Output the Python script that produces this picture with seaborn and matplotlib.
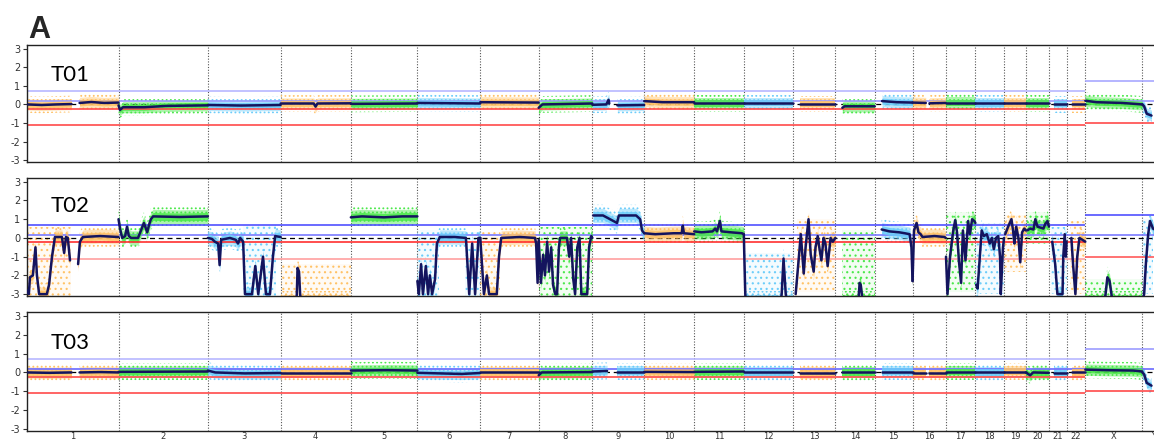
import numpy as np
import pandas as pd
import seaborn as sns
import matplotlib.pyplot as plt

NA = np.nan

# chromosomes and their lengths (Mb)
chroms = ['1', '2', '3', '4', '5', '6', '7', '8', '9', '10', '11', '12',
          '13', '14', '15', '16', '17', '18', '19', '20', '21', '22', 'X', 'Y']
chrom_mb = [249, 243, 198, 191, 181, 171, 159, 146, 141, 136, 135, 134,
            115, 107, 103, 90, 81, 78, 59, 63, 48, 51, 155, 59]
chrom_colors = ['#ffc266', '#4ae84a', '#6ccdfa'] * 8

samples = ['T01', 'T02', 'T03']

# segmented log2 ratio: (chromosome, position in Mb, value); NA breaks the line
t01_profile = [
    ('1', 0, 0.0), ('1', 40, -0.03), ('1', 80, 0.0), ('1', 121, 0.02), ('1', 121, NA),
    ('1', 143, 0.08), ('1', 175, 0.13), ('1', 210, 0.08), ('1', 249, 0.1),
    ('2', 0, -0.05), ('2', 4, -0.3), ('2', 12, -0.15), ('2', 70, -0.15), ('2', 130, -0.08), ('2', 243, -0.05),
    ('3', 0, -0.03), ('3', 90, -0.06), ('3', 198, -0.03),
    ('4', 0, 0.05), ('4', 90, 0.05), ('4', 95, -0.12), ('4', 100, 0.05), ('4', 191, 0.06),
    ('5', 0, 0.03), ('5', 181, 0.05),
    ('6', 0, 0.08), ('6', 171, 0.05),
    ('7', 0, 0.12), ('7', 159, 0.1),
    ('8', 0, -0.18), ('8', 10, 0.0), ('8', 146, 0.05),
    ('9', 0, -0.02), ('9', 38, 0.0), ('9', 44, 0.25), ('9', 46, 0.05), ('9', 46, NA),
    ('9', 68, -0.05), ('9', 141, -0.03),
    ('10', 0, 0.18), ('10', 50, 0.12), ('10', 136, 0.12),
    ('11', 0, 0.05), ('11', 135, 0.05),
    ('12', 0, 0.07), ('12', 134, 0.07),
    ('13', 18, 0.03), ('13', 115, 0.03),
    ('14', 19, -0.18), ('14', 25, -0.1), ('14', 107, -0.1),
    ('15', 20, 0.18), ('15', 60, 0.12), ('15', 103, 0.1),
    ('16', 0, 0.1), ('16', 36, 0.08), ('16', 36, NA), ('16', 46, 0.06), ('16', 90, 0.08),
    ('17', 0, 0.1), ('17', 81, 0.1),
    ('18', 0, 0.05), ('18', 78, 0.05),
    ('19', 0, 0.05), ('19', 59, 0.05),
    ('20', 0, 0.05), ('20', 63, 0.05),
    ('21', 14, 0.0), ('21', 48, 0.0),
    ('22', 16, 0.0), ('22', 51, 0.0),
    ('X', 0, 0.2), ('X', 30, 0.12), ('X', 100, 0.08), ('X', 155, 0.0),
    ('Y', 0, 0.0), ('Y', 5, -0.1), ('Y', 12, -0.5), ('Y', 25, -0.6),
]

t02_profile = [
    ('1', 0, -2.8), ('1', 5, -3.0), ('1', 8, -2.1), ('1', 16, -2.0), ('1', 23, -0.5), ('1', 27, -2.0),
    ('1', 33, -3.0), ('1', 54, -3.0), ('1', 60, -2.5), ('1', 68, -1.0), ('1', 76, 0.05), ('1', 95, 0.05),
    ('1', 101, -0.8), ('1', 106, 0.05), ('1', 111, 0.0), ('1', 117, -1.2), ('1', 117, NA),
    ('1', 139, -1.4), ('1', 144, -0.2), ('1', 152, 0.05), ('1', 199, 0.1), ('1', 249, 0.05),
    ('2', 0, 1.0), ('2', 4, 0.5), ('2', 10, 0.0), ('2', 18, 0.1), ('2', 23, 0.6), ('2', 28, 0.1),
    ('2', 34, 0.0), ('2', 53, 0.0), ('2', 61, 0.4), ('2', 69, 0.8), ('2', 78, 0.3), ('2', 83, 0.7),
    ('2', 88, 1.0), ('2', 94, 1.15), ('2', 167, 1.12), ('2', 243, 1.15),
    ('3', 0, 0.0), ('3', 11, -0.05), ('3', 19, -0.2), ('3', 28, -0.3), ('3', 32, -1.45), ('3', 36, -0.1),
    ('3', 60, 0.0), ('3', 76, -0.1), ('3', 82, -0.3), ('3', 88, 0.0), ('3', 96, -0.2), ('3', 101, -3.0),
    ('3', 120, -3.0), ('3', 129, -1.5), ('3', 137, -3.0), ('3', 150, -1.0), ('3', 158, -3.0),
    ('3', 169, -3.0), ('3', 177, -1.0), ('3', 183, 0.1), ('3', 198, 0.05),
    ('4', 0, -3.4), ('4', 42, -3.4), ('4', 44, -3.0), ('4', 46, -1.6), ('4', 50, -1.8), ('4', 53, -3.0),
    ('4', 55, -3.4), ('4', 191, -3.4),
    ('5', 0, 1.1), ('5', 30, 1.15), ('5', 90, 1.1), ('5', 140, 1.15), ('5', 181, 1.15),
    ('6', 0, -2.3), ('6', 4, -3.0), ('6', 10, -1.4), ('6', 15, -3.0), ('6', 23, -1.5), ('6', 29, -3.0),
    ('6', 34, -2.0), ('6', 40, -3.0), ('6', 48, -2.2), ('6', 53, -0.3), ('6', 61, 0.05), ('6', 102, 0.05),
    ('6', 132, 0.0), ('6', 141, -3.0), ('6', 149, -0.3), ('6', 157, -3.0), ('6', 166, 0.0), ('6', 171, 0.0),
    ('7', 0, 0.0), ('7', 5, -1.5), ('7', 10, -3.0), ('7', 18, -2.0), ('7', 24, -3.0), ('7', 45, -3.0),
    ('7', 51, -1.0), ('7', 57, 0.0), ('7', 108, 0.05), ('7', 149, 0.0), ('7', 152, -0.3), ('7', 156, -2.4),
    ('7', 159, -0.2),
    ('8', 0, -0.1), ('8', 6, -2.4), ('8', 12, -0.9), ('8', 17, -2.0), ('8', 23, -0.2), ('8', 28, -1.8),
    ('8', 34, -0.5), ('8', 39, -2.5), ('8', 45, -3.0), ('8', 50, -3.0), ('8', 55, -0.5), ('8', 58, 0.0),
    ('8', 77, 0.0), ('8', 83, -1.0), ('8', 88, 0.0), ('8', 94, -2.2), ('8', 99, -3.0), ('8', 105, -0.5),
    ('8', 111, 0.0), ('8', 116, -3.0), ('8', 132, -3.0), ('8', 137, -0.5), ('8', 143, 0.1), ('8', 146, 0.0),
    ('9', 2, 1.2), ('9', 29, 1.2), ('9', 67, 0.8), ('9', 72, 1.2), ('9', 119, 1.2), ('9', 130, 1.0),
    ('9', 135, 0.4), ('9', 141, 0.25),
    ('10', 0, 0.25), ('10', 30, 0.2), ('10', 80, 0.25), ('10', 102, 0.25), ('10', 105, 0.65),
    ('10', 108, 0.25), ('10', 136, 0.2),
    ('11', 0, 0.35), ('11', 20, 0.3), ('11', 50, 0.35), ('11', 57, 0.5), ('11', 62, 0.35), ('11', 70, 0.9),
    ('11', 74, 0.35), ('11', 100, 0.3), ('11', 130, 0.25), ('11', 135, 0.2),
    ('12', 0, 0.2), ('12', 2, -1.5), ('12', 4, -3.0), ('12', 6, -3.4), ('12', 100, -3.4), ('12', 103, -3.0),
    ('12', 108, -1.1), ('12', 114, -3.0), ('12', 118, -3.4), ('12', 134, -3.4),
    ('13', 7, -3.0), ('13', 15, -1.2), ('13', 21, 0.2), ('13', 29, -1.9), ('13', 34, -0.5), ('13', 42, 1.0),
    ('13', 48, -0.9), ('13', 56, -1.8), ('13', 61, -0.5), ('13', 67, 0.1), ('13', 72, -0.6), ('13', 77, -1.2),
    ('13', 83, 0.0), ('13', 88, -0.3), ('13', 94, -1.5), ('13', 102, 0.0), ('13', 108, -0.2), ('13', 115, 0.0),
    ('14', 19, -3.4), ('14', 62, -3.4), ('14', 64, -3.0), ('14', 66, -2.4), ('14', 69, -2.5), ('14', 72, -3.0),
    ('14', 74, -3.4), ('14', 107, -3.4),
    ('15', 19, 0.45), ('15', 40, 0.35), ('15', 67, 0.3), ('15', 82, 0.25), ('15', 95, 0.2), ('15', 100, -0.5),
    ('15', 103, -2.3),
    ('16', 0, -2.3), ('16', 4, 0.4), ('16', 11, 0.8), ('16', 16, 0.3), ('16', 22, 0.2), ('16', 27, 0.05),
    ('16', 60, 0.1), ('16', 87, 0.05), ('16', 90, 0.0),
    ('17', 1, -1.0), ('17', 5, -3.0), ('17', 12, -1.0), ('17', 20, 0.3), ('17', 26, 0.95), ('17', 31, 0.3),
    ('17', 36, -1.2), ('17', 42, -2.4), ('17', 47, 0.4), ('17', 54, -1.2), ('17', 61, 0.9), ('17', 66, 0.2),
    ('17', 72, 1.0), ('17', 78, 0.9), ('17', 81, 0.8),
    ('18', 2, -2.5), ('18', 6, -2.7), ('18', 12, -1.0), ('18', 17, 0.4), ('18', 23, 0.1), ('18', 31, 0.2),
    ('18', 39, -0.3), ('18', 45, 0.0), ('18', 50, -0.6), ('18', 56, 0.0), ('18', 62, 0.1), ('18', 67, -1.0),
    ('18', 69, -3.0), ('18', 75, -0.5), ('18', 78, 0.0),
    ('19', 3, 0.2), ('19', 11, 0.6), ('19', 20, 1.0), ('19', 25, 0.3), ('19', 28, -0.3), ('19', 33, 0.6),
    ('19', 39, 0.0), ('19', 44, -1.3), ('19', 49, 0.3), ('19', 55, 0.5), ('19', 59, 0.4),
    ('20', 4, 0.4), ('20', 12, 0.5), ('20', 21, 0.45), ('20', 26, 1.0), ('20', 32, 0.6), ('20', 40, 0.55),
    ('20', 48, 0.5), ('20', 53, 0.75), ('20', 59, 0.9), ('20', 63, 0.6),
    ('21', 9, -0.2), ('21', 17, -1.4), ('21', 23, -3.0), ('21', 37, -3.0), ('21', 39, -1.0), ('21', 43, 0.2),
    ('21', 46, -1.0), ('21', 48, -0.2),
    ('22', 13, 0.0), ('22', 18, -1.5), ('22', 24, -3.0), ('22', 29, -1.0), ('22', 35, 0.0), ('22', 43, -0.1),
    ('22', 51, -0.2),
    ('X', 0, -3.4), ('X', 52, -3.4), ('X', 55, -3.0), ('X', 60, -2.1), ('X', 66, -2.3), ('X', 71, -3.0),
    ('X', 74, -3.4), ('X', 155, -3.4),
    ('Y', 0, -3.4), ('Y', 5, -3.0), ('Y', 10, -1.3), ('Y', 16, 0.2), ('Y', 21, 0.9), ('Y', 29, 0.5),
    ('Y', 48, 0.3),
]

t03_profile = [
    ('1', 0, 0.0), ('1', 60, -0.02), ('1', 121, 0.0), ('1', 121, NA),
    ('1', 143, 0.0), ('1', 200, 0.02), ('1', 249, 0.0),
    ('2', 0, 0.03), ('2', 243, 0.05),
    ('3', 0, 0.1), ('3', 20, 0.0), ('3', 100, -0.05), ('3', 198, -0.03),
    ('4', 0, -0.02), ('4', 191, -0.02),
    ('5', 0, 0.1), ('5', 100, 0.12), ('5', 181, 0.1),
    ('6', 0, -0.02), ('6', 120, -0.08), ('6', 171, -0.03),
    ('7', 0, 0.0), ('7', 159, 0.0),
    ('8', 0, -0.15), ('8', 8, 0.0), ('8', 146, 0.02),
    ('9', 0, 0.05), ('9', 40, 0.08), ('9', 40, NA), ('9', 68, 0.05), ('9', 141, 0.05),
    ('10', 0, 0.03), ('10', 136, 0.02),
    ('11', 0, 0.03), ('11', 135, 0.05),
    ('12', 0, 0.0), ('12', 134, 0.0),
    ('13', 18, -0.03), ('13', 115, -0.03),
    ('14', 19, 0.0), ('14', 107, 0.0),
    ('15', 20, 0.05), ('15', 103, 0.05),
    ('16', 0, -0.02), ('16', 36, -0.02), ('16', 36, NA), ('16', 46, -0.02), ('16', 90, -0.02),
    ('17', 0, 0.03), ('17', 81, 0.03),
    ('18', 0, 0.0), ('18', 78, 0.0),
    ('19', 0, 0.05), ('19', 59, 0.05),
    ('20', 0, 0.0), ('20', 12, -0.15), ('20', 20, 0.0), ('20', 63, -0.02),
    ('21', 14, -0.02), ('21', 48, -0.02),
    ('22', 16, 0.0), ('22', 51, 0.0),
    ('X', 0, 0.15), ('X', 60, 0.12), ('X', 130, 0.1), ('X', 155, 0.05),
    ('Y', 0, 0.0), ('Y', 5, -0.1), ('Y', 12, -0.55), ('Y', 25, -0.7),
]

# sparse probe clouds for T02: (chromosome, start Mb, end Mb, low, high)
t02_clouds = [
    ('1', 0, 120, -3.1, 0.6), ('3', 95, 185, -3.1, 0.7), ('4', 0, 191, -3.1, -1.4),
    ('6', 0, 60, -3.1, 0.4), ('6', 130, 171, -3.1, 0.3), ('7', 0, 55, -3.1, 0.3),
    ('8', 0, 146, -3.1, 0.6), ('12', 0, 134, -3.1, -0.8), ('13', 10, 115, -2.9, 1.0),
    ('14', 19, 107, -3.1, 0.4), ('17', 0, 81, -2.9, 1.4), ('18', 0, 78, -3.0, 0.8),
    ('19', 0, 59, -1.8, 1.2), ('20', 0, 63, -0.3, 1.4), ('21', 5, 48, -3.0, 0.6),
    ('22', 10, 51, -3.0, 0.9), ('X', 0, 155, -3.1, -2.2), ('Y', 0, 30, -3.0, 1.0),
]

profiles = [t01_profile, t02_profile, t03_profile]
clouds = [[], t02_clouds, []]
noise = [0.3, 0.38, 0.3]

# thresholds: autosome gain/loss, X gain/loss
gain_levels = [0.7, 0.18]
loss_levels = [-0.22, -1.1]
x_gain = 1.25
x_loss = -1.0

line_colors = [
    ['#b8b8ff', '#9a9aff', '#ff4a4a', '#ff4a4a', '#a8a8ff', '#ff4a4a'],
    ['#5050ff', '#7a7aff', '#ff3030', '#ffa0a0', '#5050ff', '#ff5a5a'],
    ['#b8b8ff', '#6868ff', '#ff4a4a', '#ff4a4a', '#9c9cff', '#ff4a4a'],
]

offsets = np.concatenate([[0], np.cumsum(chrom_mb)[:-1]])
genome_end = int(np.sum(chrom_mb))
x_start = offsets[chroms.index('X')]


def to_frame(profile):
    rows = []
    seg = 0
    prev = None
    for c, pos, val in profile:
        if c != prev or np.isnan(val):
            seg += 1
        prev = c
        if np.isnan(val):
            continue
        i = chroms.index(c)
        rows.append((seg, c, offsets[i] + pos, val, chrom_colors[i]))
    return pd.DataFrame(rows, columns=['seg', 'chrom', 'gpos', 'lr', 'color'])


sns.set_theme(style='white')
plt.rcParams['font.family'] = ['DejaVu Sans']
plt.rcParams['hatch.linewidth'] = 0.8

fig = plt.figure(figsize=(11.54, 4.41), dpi=100)
px_per_mb = 0.3676
ax_left = 27 / 1154
ax_width = genome_end * px_per_mb / 1154
panel_box = [(45, 162), (178, 296), (312, 431)]

for k, name in enumerate(samples):
    top, bot = panel_box[k]
    ax = fig.add_axes([ax_left, 1 - bot / 441, ax_width, (bot - top) / 441])
    df = to_frame(profiles[k])
    s = noise[k]

    # sparse probe clouds (fine stipple for scattered probes)
    for c, a, b, lo, hi in clouds[k]:
        i = chroms.index(c)
        ax.fill_between([offsets[i] + a, offsets[i] + b], lo, hi, color=chrom_colors[i],
                        alpha=0.07, lw=0, zorder=1)
        ax.fill_between([offsets[i] + a, offsets[i] + b], lo, hi, facecolor='none',
                        edgecolor=chrom_colors[i], hatch='...', lw=0, zorder=1)

    # probe bands around the segments
    for seg, g in df.groupby('seg'):
        col = g['color'].iloc[0]
        ax.fill_between(g['gpos'], g['lr'] - s * 1.5, g['lr'] + s * 1.5, facecolor='none',
                        edgecolor=col, hatch='....', lw=0, zorder=2)
        ax.fill_between(g['gpos'], g['lr'] - s, g['lr'] + s, color=col, alpha=0.45, lw=0, zorder=2)
        ax.fill_between(g['gpos'], g['lr'] - s * 0.55, g['lr'] + s * 0.55, color=col, alpha=0.85,
                        lw=0, zorder=2.2)

    # thresholds
    lc = line_colors[k]
    ax.axhline(0, color='black', ls=(0, (4, 3)), lw=0.9, zorder=1.5)
    ax.hlines(gain_levels[0], 0, x_start, color=lc[0], lw=1.2, zorder=2.5)
    ax.hlines(gain_levels[1], 0, genome_end, color=lc[1], lw=1.2, zorder=2.1)
    ax.hlines(loss_levels[0], 0, x_start, color=lc[2], lw=1.2, zorder=2.5)
    ax.hlines(loss_levels[1], 0, x_start, color=lc[3], lw=1.2, zorder=2.5)
    ax.hlines(x_gain, x_start, genome_end, color=lc[4], lw=1.2, zorder=2.5)
    ax.hlines(x_loss, x_start, genome_end, color=lc[5], lw=1.2, zorder=2.5)

    # chromosome boundaries
    for b in offsets[1:]:
        ax.axvline(b, color='#555555', ls=(0, (1, 1.5)), lw=0.8, zorder=1)

    sns.lineplot(data=df, x='gpos', y='lr', units='seg', estimator=None, sort=False,
                 color='#14145e', lw=1.8, ax=ax, legend=False, zorder=4)

    ax.set_xlim(0, genome_end)
    ax.set_ylim(-3.1, 3.2)
    ax.set_yticks(range(-3, 4))
    ax.set_yticklabels([str(v) for v in range(-3, 4)], fontsize=7, color='#333333')
    ax.set_xticks(list(offsets[1:]))
    ax.set_xticklabels([])
    ax.set_xticks(offsets + np.array(chrom_mb) / 2, minor=True)
    if k == 2:
        ax.set_xticklabels(chroms, minor=True, fontsize=6, color='#333333')
    else:
        ax.set_xticklabels([], minor=True)
    ax.tick_params(axis='x', which='major', length=3, width=0.8, color='#555555', direction='out')
    ax.tick_params(axis='x', which='minor', length=0, pad=1)
    ax.tick_params(axis='y', length=3, width=0.8, color='#333333', pad=2, left=True)
    ax.set_xlabel('')
    ax.set_ylabel('')
    for sp in ['top', 'left', 'bottom']:
        ax.spines[sp].set_color('#222222')
        ax.spines[sp].set_linewidth(1.0)
    ax.spines['right'].set_visible(False)

    ax.text(23 / 1127, 0.74 if k != 1 else 0.76, name, transform=ax.transAxes, fontsize=16,
            family='Lato', va='center', ha='left', color='black', zorder=5)

fig.text(28 / 1154, 1 - 38 / 441, 'A', fontsize=22, fontweight='heavy', family='Liberation Sans',
         va='baseline', ha='left')

fig.savefig('out.png', dpi=100)
